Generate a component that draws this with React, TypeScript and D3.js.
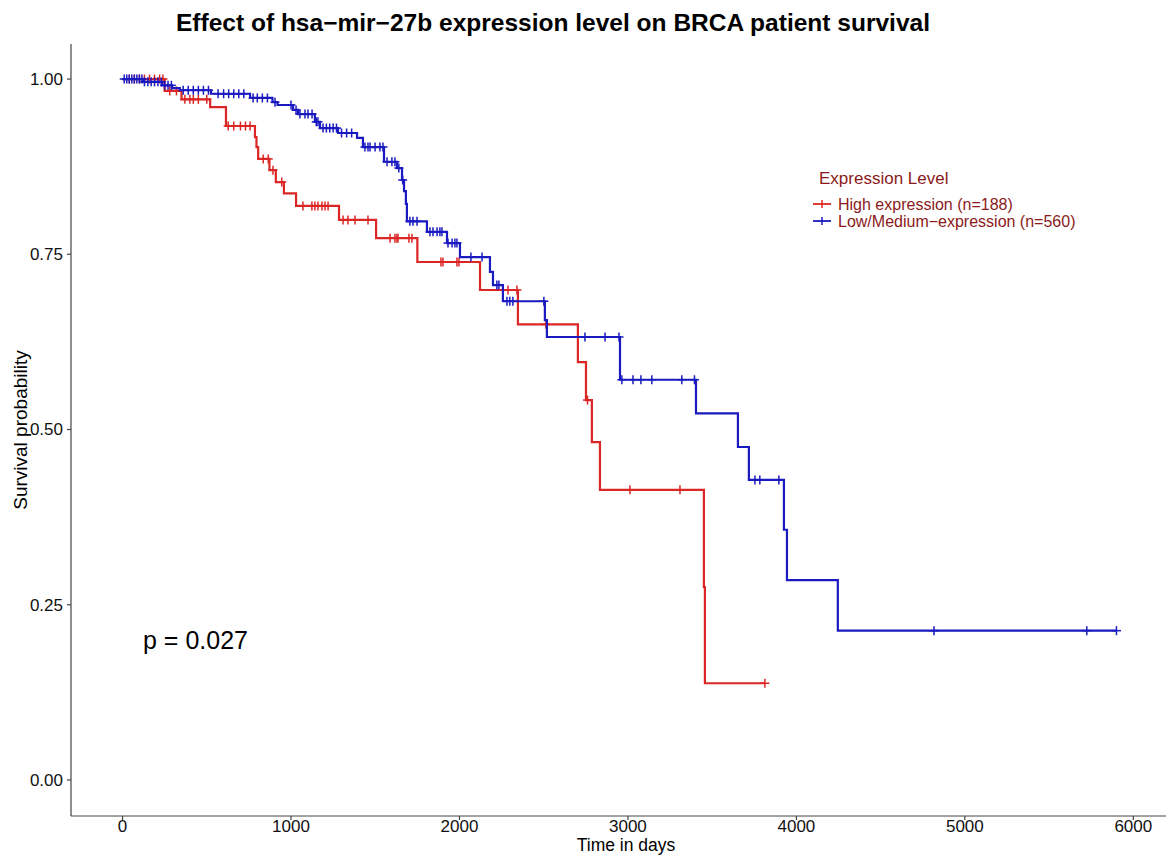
import React from 'react';
import * as d3 from 'd3';

const TITLE = 'Effect of hsa\u2212mir\u221227b expression level on BRCA patient survival';
const xTicks = [0, 1000, 2000, 3000, 4000, 5000, 6000];
const yTicks = [0, 0.25, 0.5, 0.75, 1.0];
const legendLabels = ['High expression (n=188)', 'Low/Medium\u2212expression (n=560)'];
const seriesColors = ['#DC2626', '#1A1AC0'];

// High expression
const highTimes = [0, 250, 350, 520, 614, 786, 795, 805, 872, 910, 958, 1030, 1285, 1505, 1750, 2122, 2347, 2703, 2751, 2786, 2834, 3451, 3457];
const highSurv = [1, 0.983, 0.971, 0.96, 0.933, 0.917, 0.903, 0.886, 0.87, 0.853, 0.837, 0.819, 0.799, 0.773, 0.739, 0.699, 0.65, 0.596, 0.542, 0.482, 0.414, 0.275, 0.138];
const highEnd = 3813;
const highCensor = [40, 70, 100, 130, 160, 190, 220, 240, 280, 320, 370, 400, 420, 450, 500, 627, 660, 700, 730, 757, 835, 865, 893, 945, 1071, 1124, 1142, 1160, 1184, 1202, 1220, 1309, 1338, 1380, 1457, 1588, 1617, 1629, 1635, 1700, 1718, 1890, 1902, 1985, 1997, 2288, 2341, 2513, 2760, 3012, 3309, 3813];

// Low/Medium expression
const lowTimes = [0, 122, 235, 294, 340, 525, 757, 890, 920, 1012, 1042, 1142, 1172, 1279, 1392, 1427, 1552, 1629, 1659, 1671, 1682, 1688, 1807, 1926, 2003, 2181, 2199, 2258, 2507, 2519, 2953, 3404, 3653, 3718, 3926, 3944, 4246];
const lowSurv = [1, 0.996, 0.991, 0.987, 0.984, 0.979, 0.973, 0.967, 0.963, 0.956, 0.95, 0.939, 0.93, 0.923, 0.916, 0.903, 0.882, 0.873, 0.856, 0.84, 0.822, 0.797, 0.782, 0.766, 0.746, 0.725, 0.706, 0.683, 0.656, 0.632, 0.571, 0.523, 0.475, 0.428, 0.357, 0.285, 0.213];
const lowEnd = 5900;
const lowCensor = [10, 25, 40, 55, 70, 85, 100, 115, 130, 150, 170, 190, 210, 230, 250, 270, 290, 360, 390, 420, 450, 480, 510, 567, 600, 630, 660, 690, 720, 775, 800, 830, 860, 905, 1000, 1030, 1053, 1083, 1101, 1125, 1150, 1160, 1190, 1210, 1230, 1250, 1270, 1300, 1330, 1360, 1439, 1457, 1469, 1499, 1528, 1546, 1570, 1599, 1617, 1640, 1663, 1706, 1724, 1748, 1825, 1843, 1867, 1884, 1896, 1932, 1956, 1973, 1985, 2068, 2134, 2222, 2234, 2282, 2299, 2317, 2501, 2745, 2864, 2947, 2964, 3030, 3077, 3142, 3320, 3395, 3754, 3783, 3896, 4817, 5724, 5900];

const W = 1166;
const H = 857;
const FONT = "'Liberation Sans', Arial, Helvetica, sans-serif";

function survAt(times: number[], surv: number[], t: number) {
  const i = d3.bisectRight(times, t) - 1;
  return surv[Math.max(0, i)];
}

export default function App() {
  const x = d3.scaleLinear().domain([-300, 6200]).range([72, 1167]);
  const y = d3.scaleLinear().domain([-0.05, 1.05]).range([815, 44]);
  const axisLeft = 71;
  const axisBottom = 816;

  const series = [
    { times: highTimes, surv: highSurv, end: highEnd, censor: highCensor, color: seriesColors[0] },
    { times: lowTimes, surv: lowSurv, end: lowEnd, censor: lowCensor, color: seriesColors[1] },
  ];

  const line = d3
    .line<[number, number]>()
    .x((d) => x(d[0]))
    .y((d) => y(d[1]))
    .curve(d3.curveStepAfter);

  return (
    <svg width={W} height={H} style={{ position: 'absolute', left: 0, top: 0, background: '#fff' }} fontFamily={FONT}>
      <rect x={0} y={0} width={W} height={H} fill="#fff" />
      <text x={553} y={31} textAnchor="middle" fontSize={24} fontWeight="bold" fill="#000" textLength={754} lengthAdjust="spacingAndGlyphs">
        {TITLE}
      </text>

      {/* axes */}
      <line x1={axisLeft} x2={axisLeft} y1={44} y2={axisBottom} stroke="#444" strokeWidth={1.2} />
      <line x1={axisLeft} x2={W} y1={axisBottom} y2={axisBottom} stroke="#444" strokeWidth={1.2} />
      {yTicks.map((t) => (
        <g key={'y' + t}>
          <line x1={axisLeft - 4} x2={axisLeft} y1={y(t)} y2={y(t)} stroke="#444" strokeWidth={1.2} />
          <text x={axisLeft - 8} y={y(t)} dy="0.35em" textAnchor="end" fontSize={17} fill="#111">
            {d3.format('.2f')(t)}
          </text>
        </g>
      ))}
      {xTicks.map((t) => (
        <g key={'x' + t}>
          <line x1={x(t)} x2={x(t)} y1={axisBottom} y2={axisBottom + 4} stroke="#444" strokeWidth={1.2} />
          <text x={x(t)} y={axisBottom + 16} textAnchor="middle" fontSize={17} fill="#111">
            {t}
          </text>
        </g>
      ))}
      <text x={626} y={851} textAnchor="middle" fontSize={17.5} fill="#000">Time in days</text>
      <text transform={`translate(27,${430}) rotate(-90)`} textAnchor="middle" fontSize={19} fill="#000">Survival probability</text>

      {/* curves */}
      {series.map((s, i) => {
        const pts: [number, number][] = s.times.map((t, j) => [t, s.surv[j]] as [number, number]);
        pts.push([s.end, s.surv[s.surv.length - 1]]);
        return (
          <g key={'s' + i}>
            <path d={line(pts) || ''} fill="none" stroke={s.color} strokeWidth={2.2} />
            {s.censor.map((c, k) => {
              const cx = x(c);
              const cy = y(survAt(s.times, s.surv, c));
              return (
                <g key={k} stroke={s.color} strokeWidth={1.5}>
                  <line x1={cx} x2={cx} y1={cy - 4.5} y2={cy + 4.5} />
                  <line x1={cx - 4.5} x2={cx + 4.5} y1={cy} y2={cy} />
                </g>
              );
            })}
          </g>
        );
      })}

      <text x={143} y={649} fontSize={25} fill="#000">p = 0.027</text>

      {/* legend */}
      <text x={819} y={184} fontSize={17} fill="#8B1A1A">Expression Level</text>
      {legendLabels.map((lab, i) => {
        const ly = 204 + i * 17;
        return (
          <g key={'l' + i}>
            <line x1={813} x2={831} y1={ly} y2={ly} stroke={seriesColors[i]} strokeWidth={1.8} />
            <line x1={822} x2={822} y1={ly - 4} y2={ly + 4} stroke={seriesColors[i]} strokeWidth={1.5} />
            <text x={838} y={ly} dy="0.35em" fontSize={16} fill="#8B1A1A">{lab}</text>
          </g>
        );
      })}
    </svg>
  );
}
